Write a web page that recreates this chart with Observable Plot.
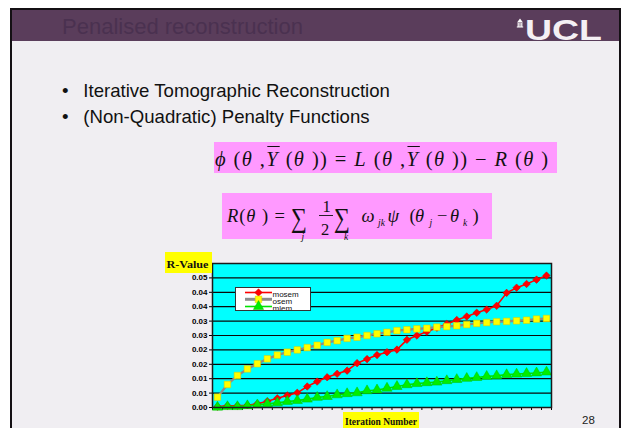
<!DOCTYPE html>
<html>
<head>
<meta charset="utf-8">
<script src="https://cdn.jsdelivr.net/npm/d3@7"></script>
<script src="https://cdn.jsdelivr.net/npm/@observablehq/plot@0.6"></script>
<style>
  html, body { margin: 0; padding: 0; background: #ffffff; }
  #slide { position: relative; width: 623px; height: 428px; overflow: hidden; background: #ffffff; }
  #frame { position: absolute; left: 10px; top: 8px; width: 611px; height: 440px; box-sizing: border-box;
           border: 2px solid #141014; background: #f0eef2; }
  #header { position: absolute; left: 12px; top: 10px; width: 607px; height: 31px; background: #5a3d5b; }
  #chart { position: absolute; left: 150px; top: 250px; }
  #overlay { position: absolute; left: 0; top: 0; pointer-events: none; }
  .sans { font-family: "Liberation Sans", Arial, sans-serif; }
  .serif { font-family: "Liberation Serif", "Times New Roman", serif; }
</style>
</head>
<body>
<div id="slide">
  <div id="frame"></div>
  <div id="header"></div>
  <div id="chart"></div>
  <svg id="overlay" width="623" height="428" xmlns="http://www.w3.org/2000/svg">
    <!-- slide title and logo -->
    <text class="sans" x="62" y="33.5" font-size="22" fill="#4a3150">Penalised reconstruction</text>
    <path d="M517,22.5 L520,18.5 L523,22.5 Z M517.6,23 h1.2 v3.4 h-1.2 Z M519.4,23 h1.2 v3.4 h-1.2 Z M521.2,23 h1.2 v3.4 h-1.2 Z M516.8,26.6 h6.4 v1 h-6.4 Z" fill="#ffffff"/>
    <text class="sans" x="525" y="40" font-size="30" font-weight="900" fill="#f4f0f4" textLength="77" lengthAdjust="spacingAndGlyphs">UCL</text>

    <!-- bullet points -->
    <text class="sans" x="62" y="96.5" font-size="18.6" fill="#111">•</text>
    <text class="sans" x="83.3" y="96.5" font-size="18.6" fill="#111">Iterative Tomographic Reconstruction</text>
    <text class="sans" x="62" y="122.5" font-size="18.6" fill="#111">•</text>
    <text class="sans" x="83.3" y="122.5" font-size="18.6" fill="#111">(Non-Quadratic) Penalty Functions</text>

    <!-- objective function -->
    <rect x="214" y="142" width="343" height="31" fill="#ff99ff"/>
    <text id="eq1" class="serif" x="215" y="166" font-size="20.5" fill="#111" textLength="333" lengthAdjust="spacing" xml:space="preserve"><tspan font-style="italic">ϕ</tspan> (<tspan font-style="italic">θ</tspan> ,<tspan font-style="italic">Y</tspan> (<tspan font-style="italic">θ</tspan> )) = <tspan font-style="italic">L</tspan> (<tspan font-style="italic">θ</tspan> ,<tspan font-style="italic">Y</tspan> (<tspan font-style="italic">θ</tspan> )) − <tspan font-style="italic">R</tspan> (<tspan font-style="italic">θ</tspan> )</text>
    <g id="eq1bars"></g>

    <!-- penalty term -->
    <rect x="222" y="193" width="270" height="46" fill="#ff99ff"/>
    <g class="serif" fill="#111">
      <text x="227" y="222.3" font-size="18.5" textLength="58" lengthAdjust="spacing" xml:space="preserve"><tspan font-style="italic">R</tspan>(<tspan font-style="italic">θ</tspan> ) =</text>
      <text x="291" y="227" font-size="27" textLength="16" lengthAdjust="spacingAndGlyphs">∑</text>
      <text x="301.5" y="240" font-size="9.5" font-style="italic">j</text>
      <text x="322.5" y="211.5" font-size="16.5">1</text>
      <line x1="319" y1="215.5" x2="333" y2="215.5" stroke="#111" stroke-width="0.9"/>
      <text x="321" y="234.5" font-size="16.5">2</text>
      <text x="334" y="227" font-size="27" textLength="16" lengthAdjust="spacingAndGlyphs">∑</text>
      <text x="344" y="240" font-size="9.5" font-style="italic">k</text>
      <text x="361.5" y="222.3" font-size="18.5" font-style="italic">ω</text>
      <text x="378" y="225.5" font-size="9.5" font-style="italic">jk</text>
      <text x="387.5" y="222.3" font-size="18.5" font-style="italic">ψ</text>
      <text x="409.5" y="222.3" font-size="18.5">(</text>
      <text x="415" y="222.3" font-size="18.5" font-style="italic">θ</text>
      <text x="429.5" y="225.5" font-size="9.5" font-style="italic">j</text>
      <text x="437" y="222.3" font-size="18.5">−</text>
      <text x="450" y="222.3" font-size="18.5" font-style="italic">θ</text>
      <text x="463" y="225.5" font-size="9.5" font-style="italic">k</text>
      <text x="472.5" y="222.3" font-size="18.5">)</text>
    </g>

    <!-- axis titles and page number -->
    <rect x="165" y="252" width="47" height="21" fill="#ffff00"/>
    <text class="serif" x="166.5" y="268.3" font-size="10.5" font-weight="bold" fill="#111" textLength="42" lengthAdjust="spacingAndGlyphs">R-Value</text>
    <rect x="343" y="412" width="76" height="20" fill="#ffff00"/>
    <text class="serif" x="345" y="424.5" font-size="10.5" font-weight="bold" fill="#111" textLength="72" lengthAdjust="spacingAndGlyphs">Iteration Number</text>
    <text class="sans" x="582" y="424" font-size="11.5" fill="#222">28</text>

    <!-- legend -->
    <defs><clipPath id="legendClip"><rect x="236" y="288" width="74" height="22"/></clipPath></defs>
    <rect x="235.5" y="287.5" width="75" height="23" fill="#ffffff" stroke="#333" stroke-width="1"/>
    <g id="legend" clip-path="url(#legendClip)"></g>
  </svg>
</div>
<script>
// R-value per iteration for the three reconstruction algorithms
const iterations = d3.range(1, 35);
const mosem = [0.0003, 0.0006, 0.0006, 0.0008, 0.0013, 0.0022, 0.0032, 0.0042, 0.0051, 0.0073,
               0.0090, 0.0105, 0.0117, 0.0128, 0.0154, 0.0168, 0.0182, 0.0192, 0.0201, 0.0235,
               0.0250, 0.0263, 0.0277, 0.0290, 0.0304, 0.0316, 0.0329, 0.0340, 0.0353, 0.0398,
               0.0416, 0.0429, 0.0444, 0.0458];
const osem  = [0.0036, 0.0080, 0.0111, 0.0134, 0.0152, 0.0169, 0.0182, 0.0192, 0.0200, 0.0208,
               0.0216, 0.0226, 0.0232, 0.0240, 0.0244, 0.0250, 0.0256, 0.0261, 0.0267, 0.0270,
               0.0273, 0.0275, 0.0279, 0.0281, 0.0284, 0.0288, 0.0292, 0.0295, 0.0298, 0.0299,
               0.0301, 0.0303, 0.0307, 0.0309];
const mlem  = [0.0001, 0.0003, 0.0003, 0.0006, 0.0009, 0.0013, 0.0016, 0.0021, 0.0024, 0.0029,
               0.0035, 0.0038, 0.0044, 0.0048, 0.0051, 0.0058, 0.0061, 0.0067, 0.0073, 0.0079,
               0.0083, 0.0086, 0.0088, 0.0093, 0.0097, 0.0101, 0.0104, 0.0108, 0.0110, 0.0114,
               0.0116, 0.0118, 0.0120, 0.0123];

const yTicks      = [0, 0.005, 0.010, 0.015, 0.020, 0.025, 0.030, 0.035, 0.040, 0.045];
const yTickLabels = ["0.00", "0.01", "0.01", "0.02", "0.02", "0.03", "0.03", "0.04", "0.04", "0.05"];
const seriesNames = ["mosem", "osem", "mlem"];

const labelOf = new Map(yTicks.map((t, i) => [t, yTickLabels[i]]));
const xBoundaries = d3.range(0.5, iterations.length + 1, 1);
const rowsOf = values => iterations.map((it, i) => ({it, v: values[i]}));

const styles = {
  mosem: {line: "#ff0000", width: 1.6, symbol: "diamond2", fill: "#ff0000", stroke: "#d00000", r: 3.4},
  osem:  {line: "#8c8c8c", width: 2.4, symbol: "square",   fill: "#ffff00", stroke: "#d8c800", r: 3.7},
  mlem:  {line: "#00e400", width: 1.6, symbol: "triangle", fill: "#00ee00", stroke: "#00c000", r: 3.8}
};
const seriesData = {mosem, osem, mlem};

const seriesMarks = seriesNames.flatMap(name => {
  const s = styles[name], rows = rowsOf(seriesData[name]);
  return [
    Plot.line(rows, {x: d => d.it, y: d => d.v, stroke: s.line, strokeWidth: s.width}),
    Plot.dot(rows, {x: d => d.it, y: d => d.v, symbol: () => s.symbol, fill: s.fill, stroke: s.stroke,
                    strokeWidth: 0.5, r: s.r})
  ];
});

const chart = Plot.plot({
  width: 420, height: 178,
  marginLeft: 62, marginRight: 19, marginTop: 13, marginBottom: 21,
  style: {background: "transparent", overflow: "visible", fontFamily: "'Liberation Sans', Arial, sans-serif"},
  x: {domain: [0.5, iterations.length + 0.5], label: null},
  y: {domain: [0, 0.05], label: null},
  symbol: {type: "identity"},
  marks: [
    Plot.frame({fill: "#00ffff"}),
    Plot.ruleY(yTicks, {stroke: "#0a0a0a", strokeWidth: 1.2}),
    Plot.axisY(yTicks, {tickSize: 3, tickPadding: 2, tickFormat: d => labelOf.get(d), label: null,
                        fontWeight: "bold", fontSize: 8, stroke: "#000", color: "#000"}),
    Plot.axisX(xBoundaries, {tickSize: 3, tickFormat: () => "", label: null, stroke: "#000"}),
    ...seriesMarks,
    Plot.frame({stroke: "#1a1a1a", strokeWidth: 1.5})
  ]
});
document.getElementById("chart").appendChild(chart);

// legend rows
const legend = d3.select("#legend");
const rowY = [292.5, 299.3, 306.5];
const symbolPath = {
  diamond2: d3.symbol(d3.symbolDiamond2, Math.PI * 3.4 * 3.4)(),
  square: d3.symbol(d3.symbolSquare, Math.PI * 3.7 * 3.7)(),
  triangle: d3.symbol(d3.symbolTriangle, Math.PI * 3.8 * 3.8)()
};
seriesNames.forEach((name, i) => {
  const s = styles[name];
  legend.append("line").attr("x1", 245).attr("x2", 272).attr("y1", rowY[i]).attr("y2", rowY[i])
    .attr("stroke", name === "osem" ? "#8c8c8c" : s.line).attr("stroke-width", name === "osem" ? 3 : 1.6);
  legend.append("path").attr("d", symbolPath[s.symbol]).attr("transform", `translate(258.5,${rowY[i]})`)
    .attr("fill", s.fill).attr("stroke", s.stroke).attr("stroke-width", 0.5);
  legend.append("text").attr("class", "sans").attr("x", 272.5).attr("y", rowY[i] + 4.5)
    .attr("font-size", 8).attr("fill", "#111").text(name);
});

// overbars on the Y symbols of the objective function
const eq1 = document.getElementById("eq1");
const txt = eq1.textContent;
const bars = d3.select("#eq1bars");
for (let i = 0; i < txt.length; i++) {
  if (txt[i] === "Y") {
    const b = eq1.getExtentOfChar(i);
    bars.append("line").attr("x1", b.x + 1).attr("x2", b.x + b.width + 2)
      .attr("y1", 146.5).attr("y2", 146.5).attr("stroke", "#111").attr("stroke-width", 1);
  }
}
</script>
</body>
</html>
